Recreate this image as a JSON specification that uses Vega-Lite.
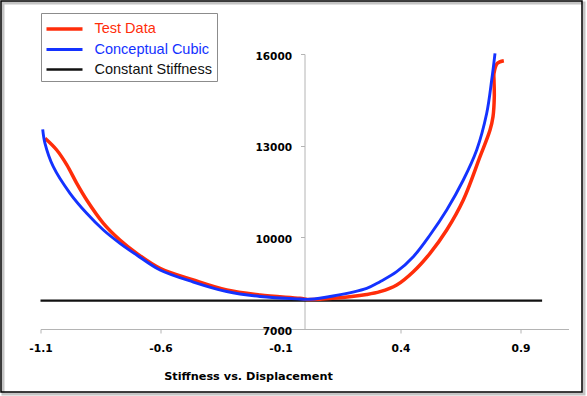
{
  "$schema": "https://vega.github.io/schema/vega-lite/v6.json",
  "width": 528,
  "height": 275,
  "autosize": {"type": "none"},
  "padding": {"left": 40.5, "top": 54, "right": 18.5, "bottom": 67},
  "background": "white",
  "config": {"view": {"stroke": null}},
  "layer": [
    {
      "data": {"values": [{}]},
      "mark": {"type": "rect", "fill": null, "stroke": "#c4c4c4", "strokeWidth": 3, "clip": false},
      "encoding": {
        "x": {"datum": -1.2563, "type": "quantitative", "scale": {"domain": [-1.1, 1.1], "nice": false, "zero": false}},
        "x2": {"datum": 1.1646},
        "y": {"datum": 17669, "type": "quantitative", "scale": {"domain": [7000, 16000], "nice": false, "zero": false}},
        "y2": {"datum": 4873}
      }
    },
    {
      "data": {"values": [{}]},
      "mark": {"type": "rect", "fill": null, "stroke": "black", "strokeWidth": 1.5, "clip": false},
      "encoding": {
        "x": {"datum": -1.2646, "type": "quantitative", "scale": {"domain": [-1.1, 1.1], "nice": false, "zero": false}},
        "x2": {"datum": 1.15625},
        "y": {"datum": 17734, "type": "quantitative", "scale": {"domain": [7000, 16000], "nice": false, "zero": false}},
        "y2": {"datum": 4938}
      }
    },
    {
      "data": {
        "values": [
          {"s": "Constant Stiffness", "i": 0, "x": -1.1, "y": 7930},
          {"s": "Constant Stiffness", "i": 1, "x": 0.99, "y": 7930},
          {"s": "Test Data", "i": 0, "x": -1.081, "y": 13241},
          {"s": "Test Data", "i": 1, "x": -1.0325, "y": 12858},
          {"s": "Test Data", "i": 2, "x": -0.991, "y": 12380},
          {"s": "Test Data", "i": 3, "x": -0.949, "y": 11768},
          {"s": "Test Data", "i": 4, "x": -0.9075, "y": 11222},
          {"s": "Test Data", "i": 5, "x": -0.838, "y": 10459},
          {"s": "Test Data", "i": 6, "x": -0.769, "y": 9913},
          {"s": "Test Data", "i": 7, "x": -0.699, "y": 9477},
          {"s": "Test Data", "i": 8, "x": -0.602, "y": 8987},
          {"s": "Test Data", "i": 9, "x": -0.463, "y": 8604},
          {"s": "Test Data", "i": 10, "x": -0.324, "y": 8276},
          {"s": "Test Data", "i": 11, "x": -0.185, "y": 8113},
          {"s": "Test Data", "i": 12, "x": -0.019, "y": 8005},
          {"s": "Test Data", "i": 13, "x": 0.023, "y": 7965},
          {"s": "Test Data", "i": 14, "x": 0.119, "y": 8005},
          {"s": "Test Data", "i": 15, "x": 0.259, "y": 8130},
          {"s": "Test Data", "i": 16, "x": 0.3146, "y": 8221},
          {"s": "Test Data", "i": 17, "x": 0.3842, "y": 8440},
          {"s": "Test Data", "i": 18, "x": 0.4533, "y": 8875},
          {"s": "Test Data", "i": 19, "x": 0.5229, "y": 9477},
          {"s": "Test Data", "i": 20, "x": 0.5925, "y": 10240},
          {"s": "Test Data", "i": 21, "x": 0.6617, "y": 11222},
          {"s": "Test Data", "i": 22, "x": 0.7313, "y": 12639},
          {"s": "Test Data", "i": 23, "x": 0.773, "y": 13513},
          {"s": "Test Data", "i": 24, "x": 0.7854, "y": 13948},
          {"s": "Test Data", "i": 25, "x": 0.7908, "y": 14603},
          {"s": "Test Data", "i": 26, "x": 0.7896, "y": 15150},
          {"s": "Test Data", "i": 27, "x": 0.7896, "y": 15370},
          {"s": "Test Data", "i": 28, "x": 0.8035, "y": 15695},
          {"s": "Test Data", "i": 29, "x": 0.8306, "y": 15781},
          {"s": "Conceptual Cubic", "i": 0, "x": -1.0908, "y": 13536},
          {"s": "Conceptual Cubic", "i": 1, "x": -1.0813, "y": 13077},
          {"s": "Conceptual Cubic", "i": 2, "x": -1.0467, "y": 12312},
          {"s": "Conceptual Cubic", "i": 3, "x": -0.977, "y": 11441},
          {"s": "Conceptual Cubic", "i": 4, "x": -0.9075, "y": 10787},
          {"s": "Conceptual Cubic", "i": 5, "x": -0.838, "y": 10240},
          {"s": "Conceptual Cubic", "i": 6, "x": -0.769, "y": 9805},
          {"s": "Conceptual Cubic", "i": 7, "x": -0.699, "y": 9422},
          {"s": "Conceptual Cubic", "i": 8, "x": -0.602, "y": 8931},
          {"s": "Conceptual Cubic", "i": 9, "x": -0.463, "y": 8538},
          {"s": "Conceptual Cubic", "i": 10, "x": -0.324, "y": 8227},
          {"s": "Conceptual Cubic", "i": 11, "x": -0.185, "y": 8064},
          {"s": "Conceptual Cubic", "i": 12, "x": -0.019, "y": 7982},
          {"s": "Conceptual Cubic", "i": 13, "x": 0.023, "y": 7972},
          {"s": "Conceptual Cubic", "i": 14, "x": 0.119, "y": 8080},
          {"s": "Conceptual Cubic", "i": 15, "x": 0.259, "y": 8332},
          {"s": "Conceptual Cubic", "i": 16, "x": 0.3146, "y": 8548},
          {"s": "Conceptual Cubic", "i": 17, "x": 0.3842, "y": 8875},
          {"s": "Conceptual Cubic", "i": 18, "x": 0.4533, "y": 9366},
          {"s": "Conceptual Cubic", "i": 19, "x": 0.5229, "y": 10076},
          {"s": "Conceptual Cubic", "i": 20, "x": 0.5925, "y": 10895},
          {"s": "Conceptual Cubic", "i": 21, "x": 0.6617, "y": 11876},
          {"s": "Conceptual Cubic", "i": 22, "x": 0.7175, "y": 12858},
          {"s": "Conceptual Cubic", "i": 23, "x": 0.7592, "y": 14059},
          {"s": "Conceptual Cubic", "i": 24, "x": 0.78, "y": 15149},
          {"s": "Conceptual Cubic", "i": 25, "x": 0.7938, "y": 16023}
        ]
      },
      "mark": {"type": "line", "interpolate": "catmull-rom", "clip": false},
      "encoding": {
        "x": {
          "field": "x",
          "type": "quantitative",
          "scale": {"domain": [-1.1, 1.1], "nice": false, "zero": false},
          "axis": {
            "orient": "bottom",
            "values": [-1.1, -0.6, -0.1, 0.4, 0.9],
            "labelExpr": "'' + datum.value",
            "grid": false,
            "labelFlush": false,
            "labelOverlap": false,
            "domainColor": "#b4b4b4",
            "tickColor": "#b4b4b4",
            "tickSize": 4,
            "labelFont": "DejaVu Sans",
            "labelFontWeight": "bold",
            "labelFontSize": 10.7,
            "labelColor": "black",
            "labelPadding": 10,
            "title": "Stiffness vs. Displacement",
            "titleFont": "DejaVu Sans",
            "titleFontWeight": "bold",
            "titleFontSize": 11.3,
            "titleColor": "black",
            "titleX": 207.5,
            "titleY": 47,
            "titleBaseline": "middle",
            "titleAlign": "center",
            "titleAnchor": null
          }
        },
        "y": {
          "field": "y",
          "type": "quantitative",
          "scale": {"domain": [7000, 16000], "nice": false, "zero": false},
          "axis": {
            "orient": "left",
            "offset": -264,
            "values": [7000, 10000, 13000, 16000],
            "labelExpr": "'' + datum.value",
            "grid": false,
            "title": null,
            "domainColor": "#b4b4b4",
            "tickColor": "#b4b4b4",
            "tickSize": 4,
            "labelFont": "DejaVu Sans",
            "labelFontWeight": "bold",
            "labelFontSize": 10.5,
            "labelColor": "black",
            "labelPadding": 9,
            "labelOffset": 2,
            "labelFlush": false,
            "labelOverlap": false
          }
        },
        "order": {"field": "i", "type": "quantitative"},
        "detail": {"field": "s"},
        "color": {
          "field": "s",
          "type": "nominal",
          "sort": null,
          "scale": {
            "domain": ["Test Data", "Conceptual Cubic", "Constant Stiffness"],
            "range": ["#ff2d0a", "#1432ff", "#111111"]
          },
          "legend": {
            "orient": "none",
            "legendX": 0.5,
            "legendY": -41,
            "title": null,
            "symbolType": "M-2,0H2",
            "symbolSize": 324,
            "symbolStrokeWidth": 2.5,
            "symbolOffset": 7.5,
            "labelFont": "Liberation Sans",
            "labelFontSize": 14.5,
            "labelColor": {"expr": "datum.value == 'Test Data' ? '#ff2d0a' : datum.value == 'Conceptual Cubic' ? '#1432ff' : '#111111'"},
            "labelOffset": 19,
            "labelLimit": 400,
            "strokeColor": "#8c8c8c",
            "fillColor": "white",
            "padding": 5,
            "rowPadding": 3
          }
        },
        "strokeWidth": {
          "field": "s",
          "type": "nominal",
          "scale": {
            "domain": ["Test Data", "Conceptual Cubic", "Constant Stiffness"],
            "range": [3.5, 2.3, 2.5]
          },
          "legend": null
        }
      }
    }
  ]
}
